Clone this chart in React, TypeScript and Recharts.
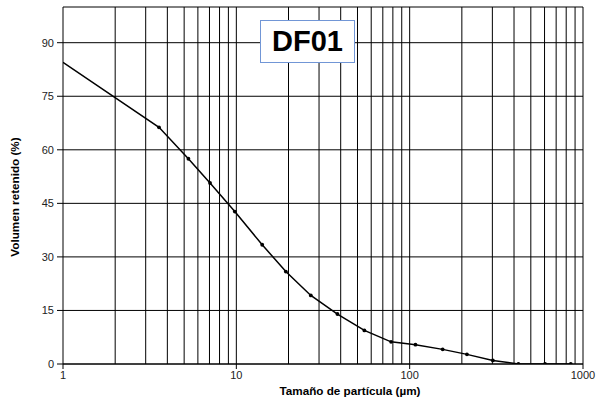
import { LineChart, Line, XAxis, YAxis, CartesianGrid, ReferenceLine } from "recharts";

// particle size (µm) and retained volume (%)
const sizes = [1, 3.58, 5.29, 7.05, 9.8, 14.1, 19.3, 26.9, 38.3, 54.8, 78.1, 108, 155, 214, 302, 424, 604, 850];
const retained = [84.5, 66.3, 57.5, 50.7, 42.7, 33.4, 25.9, 19.2, 14.0, 9.4, 6.2, 5.4, 4.1, 2.7, 1.0, 0, 0, 0];

const xTicks = [1, 10, 100, 1000];
const yTicks = [0, 15, 30, 45, 60, 75, 90];
const logGrid = [2, 3, 4, 5, 6, 7, 8, 9, 10, 20, 30, 40, 50, 60, 70, 80, 90, 100, 200, 300, 400, 500, 600, 700, 800, 900, 1000];

const data = sizes.map((s, i) => ({ size: s, vol: retained[i] }));

const FONT = "'Liberation Sans', Arial, sans-serif";

function Dot(props: any) {
  const { cx, cy, index } = props;
  if (index === 0) return <g key={index} />;
  return <circle key={index} cx={cx} cy={cy} r={1.9} fill="#000" stroke="none" />;
}

export default function App() {
  return (
    <div style={{ position: "absolute", left: 0, top: 0, width: 597, height: 407, background: "#fff", fontFamily: FONT }}>
      <LineChart width={597} height={407} data={data} margin={{ top: 7, right: 14, left: 0, bottom: 0 }}>
        <CartesianGrid vertical={false} stroke="#000" strokeDasharray="" />
        {logGrid.map((v) => (
          <ReferenceLine key={v} x={v} stroke="#000" strokeWidth={1} />
        ))}
        <XAxis
          dataKey="size"
          type="number"
          scale="log"
          domain={[1, 1000]}
          ticks={xTicks}
          interval={0}
          allowDataOverflow
          height={43}
          tickSize={5}
          tickMargin={2}
          stroke="#000"
          tick={{ fill: "#222", fontSize: 11, fontFamily: FONT }}
          label={{
            content: () => (
              <text x={350} y={395} textAnchor="middle" fontSize={11.7} fontWeight="bold" fontFamily={FONT} fill="#000">
                Tamaño de partícula (µm)
              </text>
            ),
          }}
        />
        <YAxis
          type="number"
          domain={[0, 100]}
          ticks={yTicks}
          interval={0}
          allowDataOverflow
          width={63}
          tickSize={6}
          tickMargin={3}
          stroke="#000"
          tick={{ fill: "#222", fontSize: 11, fontFamily: FONT }}
          label={{
            content: () => (
              <text
                x={19}
                y={197}
                textAnchor="middle"
                fontSize={11.7}
                fontWeight="bold"
                fontFamily={FONT}
                fill="#000"
                transform="rotate(-90, 19, 197)"
              >
                Volumen retenido (%)
              </text>
            ),
          }}
        />
        <Line
          type="linear"
          dataKey="vol"
          stroke="#000"
          strokeWidth={1.5}
          dot={<Dot />}
          activeDot={false}
          isAnimationActive={false}
        />
      </LineChart>
      <div
        style={{
          position: "absolute",
          left: 260,
          top: 20,
          width: 93,
          height: 41,
          border: "1px solid #7196d6",
          background: "#fff",
          display: "flex",
          alignItems: "center",
          justifyContent: "center",
          fontSize: 29,
          fontWeight: "bold",
          fontFamily: FONT,
          color: "#000",
        }}
      >
        DF01
      </div>
    </div>
  );
}
